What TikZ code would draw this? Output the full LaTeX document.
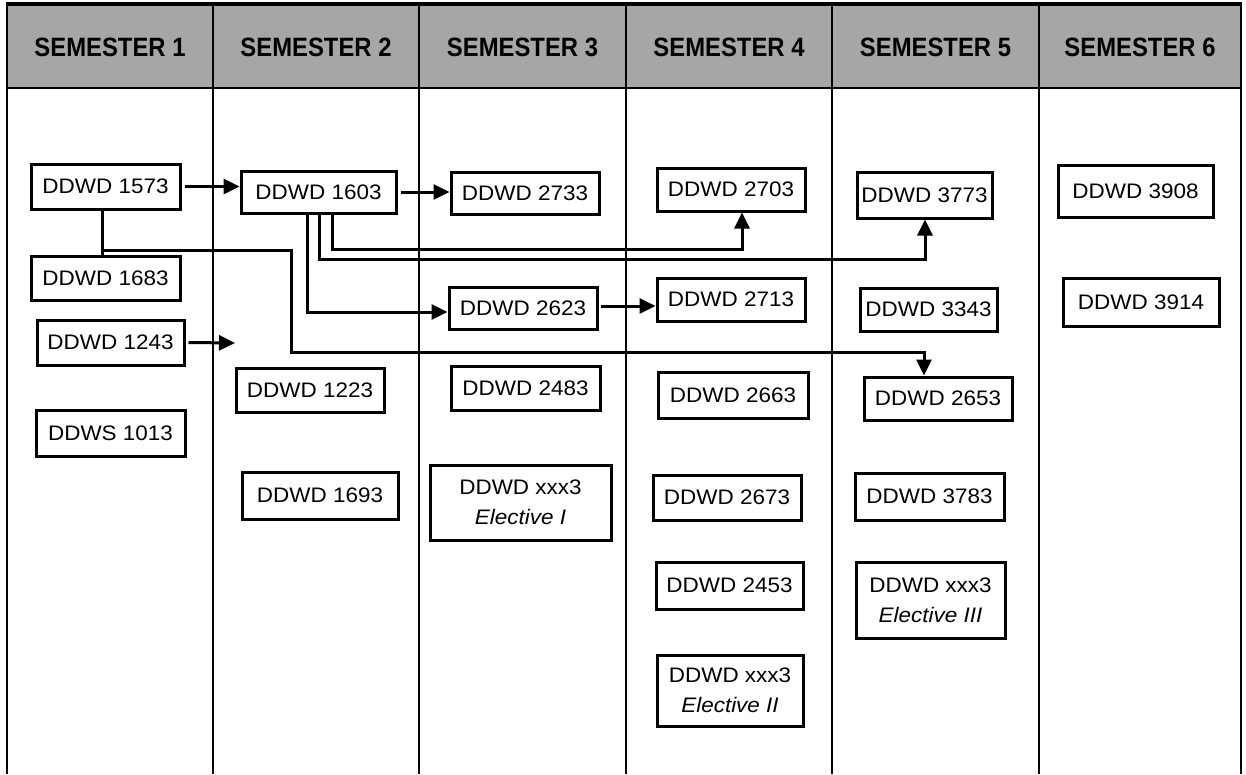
\documentclass[tikz,border=0pt]{standalone}
\usepackage{fontspec}
\setmainfont{Liberation Sans}
\newfontfamily\boxfont[FakeStretch=1.07]{Liberation Sans}
\newfontfamily\headfont[FakeStretch=0.9]{Liberation Sans}
\usetikzlibrary{arrows.meta,calc}
\definecolor{headgray}{RGB}{166,166,166}
\tikzset{
  course/.style={draw, line width=3pt, inner sep=0pt, align=center,
    font=\boxfont\fontsize{21}{30}\selectfont},
  head/.style={font=\headfont\bfseries\fontsize{26.5}{30}\selectfont},
  conn/.style={line width=3pt},
  arr/.style={conn, -{Triangle[length=16pt,width=15pt]}},
  grid/.style={line width=2.8pt}
}
\newcommand\coursebox[6]{\node[course, minimum width={(#4-#2)*1pt}, minimum height={(#5-#3)*1pt}] (#1) at ({(#2+#4)/2},{(#3+#5)/2}) {#6};}
\begin{document}
\begin{tikzpicture}[x=1pt,y=-1pt]
\useasboundingbox (0,0) rectangle (1246,774);
% table
\fill[headgray] (7,4) rectangle (1241,88);
\draw[line width=3.2pt] (6,4) -- (1242,4);
\draw[grid] (7,88) -- (1241,88);
\foreach \x in {7,213,419,626,832,1039,1241}{\draw[grid] (\x,4) -- (\x,774);}
\node[head] (h1) at (110,47) {SEMESTER 1};
\node[head] (h2) at (316,47) {SEMESTER 2};
\node[head] (h3) at (522.5,47) {SEMESTER 3};
\node[head] (h4) at (729,47) {SEMESTER 4};
\node[head] (h5) at (935.5,47) {SEMESTER 5};
\node[head] (h6) at (1140,47) {SEMESTER 6};
% boxes
\coursebox{n1573}{31}{164}{180}{209}{DDWD 1573}
\coursebox{n1683}{31}{256}{180}{300}{DDWD 1683}
\coursebox{n1243}{37}{320}{184}{365}{DDWD 1243}
\coursebox{n1013}{36}{410}{185}{456}{DDWS 1013}
\coursebox{n1603}{241}{171}{396}{213}{DDWD 1603}
\coursebox{n1223}{236}{368}{384}{412}{DDWD 1223}
\coursebox{n1693}{242}{472}{398}{519}{DDWD 1693}
\coursebox{n2733}{451}{172}{599}{214}{DDWD 2733}
\coursebox{n2623}{449}{287}{597}{329}{DDWD 2623}
\coursebox{n2483}{451}{366}{600}{410}{DDWD 2483}
\coursebox{nE1}{430}{465}{611}{540}{DDWD xxx3\\\textit{Elective I}}
\coursebox{n2703}{657}{168}{805}{211}{DDWD 2703}
\coursebox{n2713}{657}{278}{805}{321}{DDWD 2713}
\coursebox{n2663}{658}{372}{808}{418}{DDWD 2663}
\coursebox{n2673}{653}{475}{801}{520}{DDWD 2673}
\coursebox{n2453}{656}{562}{803}{609}{DDWD 2453}
\coursebox{nE2}{657}{655}{803}{726}{DDWD xxx3\\\textit{Elective II}}
\coursebox{n3773}{857}{172}{992}{218}{DDWD 3773}
\coursebox{n3343}{860}{288}{997}{331}{DDWD 3343}
\coursebox{n2653}{864}{377}{1012}{420}{DDWD 2653}
\coursebox{n3783}{855}{473}{1004}{520}{DDWD 3783}
\coursebox{nE3}{856}{562}{1005}{638}{DDWD xxx3\\\textit{Elective III}}
\coursebox{n3908}{1058}{165}{1213}{217}{DDWD 3908}
\coursebox{n3914}{1063}{278}{1219}{326}{DDWD 3914}
% connectors
\draw[arr] ($(n1573.east)+(3,0)$) -- (n1573.east -| n1603.west);
\draw[arr] ($(n1603.east)+(3,0)$) -- (n1603.east -| n2733.west);
\coordinate (j1) at (102,250);
\coordinate (j2) at (291,250);
\coordinate (j3) at (291,352);
\coordinate (j4) at (924,352);
\draw[conn] (j1 |- n1573.south) -- (j1 |- n1683.north);
\draw[arr] (j1) -- (j2) -- (j3) -- (j4) -- (j4 |- n2653.north);
\coordinate (k1) at (332,249);
\coordinate (k2) at (742,249);
\draw[arr] (k1 |- n1603.south) -- (k1) -- (k2) -- (k2 |- n2703.south);
\coordinate (m1) at (319,259);
\coordinate (m2) at (925,259);
\draw[arr] (m1 |- n1603.south) -- (m1) -- (m2) -- (m2 |- n3773.south);
\coordinate (r1) at (307,312);
\draw[arr] (r1 |- n1603.south) -- (r1) -- (r1 -| n2623.west);
\coordinate (s1) at (601,306);
\draw[arr] (s1) -- (s1 -| n2713.west);
\coordinate (t1) at (235,343);
\draw[arr] ($(n1243.east)+(3,0)$) -- (t1);
\end{tikzpicture}
\end{document}
